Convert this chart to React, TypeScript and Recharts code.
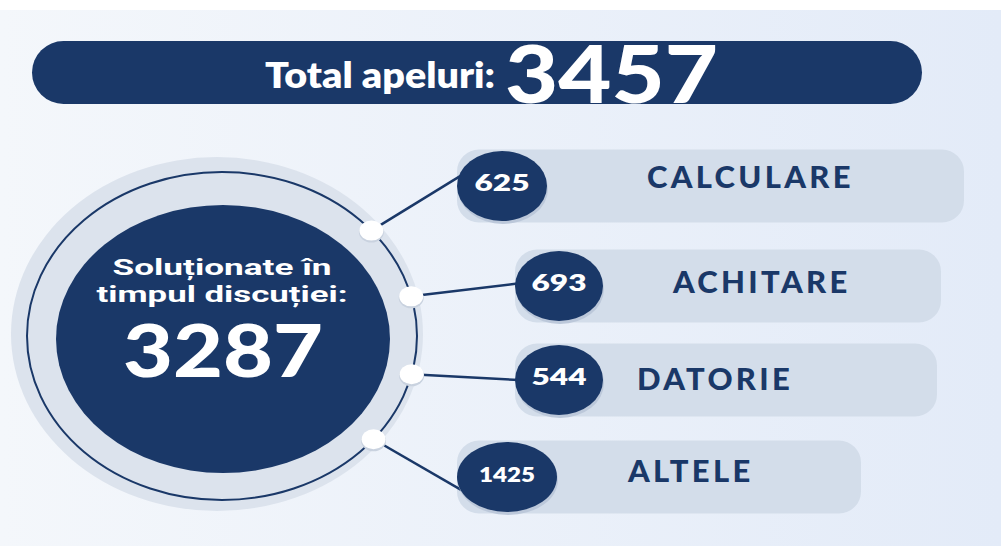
import { BarChart, Bar, XAxis, YAxis, Customized } from 'recharts';

const categories = ['CALCULARE', 'ACHITARE', 'DATORIE', 'ALTELE'];
const values = [625, 693, 544, 1425];
const totalLabel = 'Total apeluri:';
const totalCalls = 3457;
const solvedLines = ['Soluționate în', 'timpul discuției:'];
const solvedCalls = 3287;

const rows = categories.map((name, i) => ({ name, value: values[i] }));

const NAVY = '#1a3868';
const PILL = '#d3ddea';
const FONT = "Lato, 'Noto Sans', sans-serif";
const TIGHT = "Roboto, 'DejaVu Sans', sans-serif";

// decorative layout per row: pill extent, nudges, label offset, attach angles
const pillLeft = [457, 515, 515, 457];
const pillRight = [964, 941, 937, 861];
const rowNudge = [0, 3, 0, 0];
const labelOffset = [190, 158, 122, 171];
const labelNudge = [-9, -4, -1, -6];
const badgeRx = [45, 44, 44, 50];
const ringAngle = [-40, -14, 13.5, 39];
const badgeAngle = [204, 185, 180, 146];

const RING = { cx: 222, cy: 336, rx: 195, ry: 164 };

const rad = (d: number) => (d * Math.PI) / 180;

function Backdrop() {
  return (
    <g>
      <rect x={0} y={0} width={1001} height={546} fill="url(#bgGrad)" />
      <rect x={0} y={0} width={1001} height={10} fill="#ffffff" />
      <rect x={32} y={41} width={890} height={63} rx={31.5} fill={NAVY} />
      <text
        x={265}
        y={88}
        fill="#fff"
        fontFamily={FONT}
        fontWeight={800}
        fontSize={35}
        textLength={230}
        lengthAdjust="spacingAndGlyphs"
      >
        {totalLabel}
      </text>
      <text
        x={505}
        y={103}
        fill="#fff"
        fontFamily={FONT}
        fontWeight={900}
        fontSize={80}
        textLength={213}
        lengthAdjust="spacingAndGlyphs"
      >
        {totalCalls}
      </text>

      <ellipse cx={217} cy={334} rx={206} ry={177} fill="#dce3ed" />
      <ellipse cx={RING.cx} cy={RING.cy} rx={RING.rx} ry={RING.ry} fill="none" stroke={NAVY} strokeWidth={2} />
      <ellipse cx={223} cy={339} rx={167} ry={134} fill={NAVY} />
      <text x={222} y={275} textAnchor="middle" fill="#fff" fontFamily={TIGHT} fontWeight={700} fontSize={22} textLength={219} lengthAdjust="spacingAndGlyphs">
        {solvedLines[0]}
      </text>
      <text x={222} y={302} textAnchor="middle" fill="#fff" fontFamily={TIGHT} fontWeight={700} fontSize={22} textLength={251} lengthAdjust="spacingAndGlyphs">
        {solvedLines[1]}
      </text>
      <text x={223} y={377} textAnchor="middle" fill="#fff" fontFamily={FONT} fontWeight={900} fontSize={72} textLength={200} lengthAdjust="spacingAndGlyphs">
        {solvedCalls}
      </text>
    </g>
  );
}

function RowShape(props: any) {
  const { y, height, index, payload } = props;
  const i = typeof index === 'number' ? index : categories.indexOf(payload.name);
  const top = y + rowNudge[i];
  const cy = top + height / 2;
  const x0 = pillLeft[i];
  const rx = badgeRx[i];
  const bx = x0 + rx;
  const dx = RING.cx + RING.rx * Math.cos(rad(ringAngle[i]));
  const dy = RING.cy + RING.ry * Math.sin(rad(ringAngle[i]));
  const ex = bx + (rx - 4) * Math.cos(rad(badgeAngle[i]));
  const ey = cy + 31 * Math.sin(rad(badgeAngle[i]));
  const num = String(payload.value);
  return (
    <g>
      <rect x={x0} y={top} width={pillRight[i] - x0} height={height} rx={22} fill={PILL} />
      <line x1={dx} y1={dy} x2={ex} y2={ey} stroke={NAVY} strokeWidth={2.5} />
      <ellipse cx={dx} cy={dy + 1.5} rx={12.5} ry={10.5} fill="#c9d2df" />
      <ellipse cx={dx} cy={dy} rx={12} ry={10} fill="#ffffff" />
      <ellipse cx={bx + 1} cy={cy + 3} rx={rx} ry={35} fill="#bcc8da" />
      <ellipse cx={bx} cy={cy} rx={rx} ry={35} fill={NAVY} />
      <text
        x={bx}
        y={cy - 3}
        dy="0.36em"
        textAnchor="middle"
        fill="#fff"
        fontFamily={FONT}
        fontWeight={800}
        fontSize={num.length > 3 ? 21 : 23}
        textLength={num.length > 3 ? 56 : 55}
        lengthAdjust="spacingAndGlyphs"
      >
        {num}
      </text>
      <text
        x={x0 + labelOffset[i]}
        y={cy + labelNudge[i]}
        dy="0.36em"
        fill={NAVY}
        fontFamily={FONT}
        fontWeight={900}
        fontSize={31}
        letterSpacing={3.3}
      >
        {payload.name}
      </text>
    </g>
  );
}

export default function App() {
  return (
    <div style={{ position: 'absolute', left: 0, top: 0, width: 1001, height: 546 }}>
      <BarChart
        width={1001}
        height={546}
        data={rows}
        layout="vertical"
        margin={{ top: 137.5, right: 0, bottom: 20.5, left: 0 }}
      >
        <defs>
          <linearGradient id="bgGrad" x1="0" y1="0" x2="1" y2="0">
            <stop offset="0%" stopColor="#f4f7fb" />
            <stop offset="100%" stopColor="#e3ebf8" />
          </linearGradient>
        </defs>
        <Customized component={Backdrop} />
        <XAxis type="number" hide />
        <YAxis type="category" dataKey="name" hide />
        <Bar dataKey="value" barSize={73} shape={RowShape} isAnimationActive={false} />
      </BarChart>
    </div>
  );
}
